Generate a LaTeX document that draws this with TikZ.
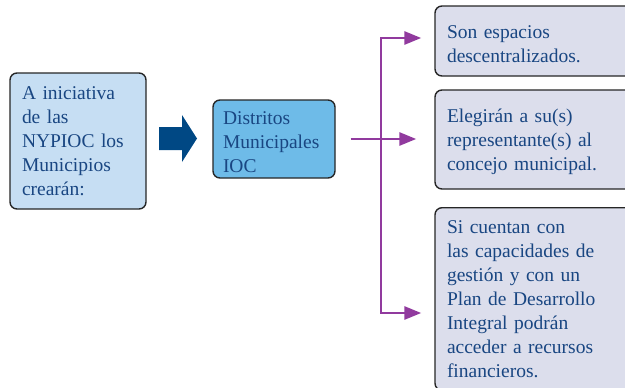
\documentclass[tikz,border=0pt]{standalone}
\usepackage{fontspec}
\setmainfont{Liberation Serif}
\usetikzlibrary{arrows.meta, positioning, calc}
\definecolor{boxblue}{RGB}{198,222,243}
\definecolor{distblue}{RGB}{110,187,232}
\definecolor{ansgray}{RGB}{220,222,236}
\definecolor{txtblue}{RGB}{25,70,130}
\definecolor{navyarrow}{RGB}{0,72,132}
\definecolor{linkpurple}{RGB}{145,58,158}
\newcommand{\toplift}[1]{\rule{0pt}{#1}}

\tikzset{
  >={Triangle[length=17pt,width=13pt]},
  card/.style={draw=black!85, line width=1.4pt, rounded corners=7pt,
    align=left, text=txtblue, font=\fontsize{19.5}{24}\selectfont},
  link/.style={draw=linkpurple, line width=2.8pt, line join=miter}
}

\begin{document}
\begin{tikzpicture}[x=1pt, y=-1pt]
    \useasboundingbox (0,0) rectangle (625,388);
    \clip (0,0) rectangle (625,388);

    %% Left: starting box and block arrow
    \node[card, fill=boxblue, minimum width=136pt, minimum height=136pt,
      text width=112pt, inner xsep=12pt] (init) at (78,141)
      {A iniciativa\\de las\\NYPIOC los\\Municipios\\crearán:};

    \fill[navyarrow] (159,127) -- (182,127) -- (182,115) -- (197,138.5)
      -- (182,162) -- (182,150) -- (159,150) -- cycle;

    %% Middle box
    \node[card, fill=distblue, minimum width=122pt, minimum height=78pt,
      text width=102pt, inner xsep=10pt] (dist) at (274,139)
      {\toplift{20pt}Distritos\\Municipales\\IOC};

    %% Right: outcome boxes
    \node[card, fill=ansgray, minimum width=210pt, minimum height=70pt,
      text width=186pt, inner xsep=12pt] (ans1) at (540,41)
      {\toplift{19pt}Son espacios\\descentralizados.};
    \node[card, fill=ansgray, minimum width=210pt, minimum height=99pt,
      text width=186pt, inner xsep=12pt] (ans2) at (540,139.5)
      {\toplift{18.7pt}Elegirán a su(s)\\representante(s) al\\concejo municipal.};
    \node[card, fill=ansgray, text width=186pt, inner xsep=12pt,
      inner ysep=12.7pt, anchor=north] (ans3) at (540,207)
      {Si cuentan con\\las capacidades de\\gestión y con un\\Plan de Desarrollo\\Integral podrán\\acceder a recursos\\financieros.};

    %% Connectors
    \coordinate (trunktop) at (381,38);
    \coordinate (trunkbot) at (381,313);
    \draw[link, <->, shorten <=13pt, shorten >=13pt]
      (trunktop -| ans1.west) -- (trunktop) -- (trunkbot) -- (trunkbot -| ans3.west);
    \draw[link, ->, shorten <=15pt, shorten >=18pt] (dist.east) -- (dist.east -| ans2.west);
\end{tikzpicture}
\end{document}
